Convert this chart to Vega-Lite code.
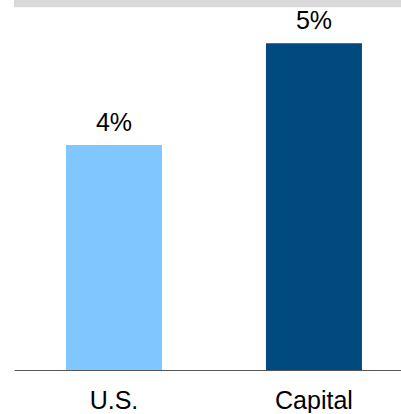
{
  "$schema": "https://vega.github.io/schema/vega-lite/v6.json",
  "width": 387,
  "height": 370,
  "padding": {"left": 14, "top": 0, "right": 0, "bottom": 0},
  "autosize": {"type": "pad"},
  "background": "white",
  "config": {"view": {"stroke": null}, "font": "Liberation Sans"},
  "datasets": {
    "bars": [
      {"group": "U.S.", "value": 3.44, "label": "4%"},
      {"group": "Capital", "value": 5.0, "label": "5%"}
    ],
    "band": [{"lo": 5.55, "hi": 5.66}]
  },
  "layer": [
    {
      "data": {"name": "band"},
      "mark": {"type": "rect", "color": "#d9d9d9", "clip": false},
      "encoding": {
        "y": {"field": "lo", "type": "quantitative", "scale": {"domain": [0, 5.66], "nice": false, "zero": true}, "axis": null},
        "y2": {"field": "hi"}
      }
    },
    {
      "data": {"name": "bars"},
      "encoding": {
        "x": {
          "field": "group", "type": "nominal", "sort": null,
          "scale": {"paddingInner": 0.52, "paddingOuter": 0.2275, "align": 0.571},
          "axis": {"title": null, "labelAngle": 0, "ticks": false, "labelFontSize": 25, "labelColor": "#000000", "labelPadding": 18, "domainColor": "#555555", "domainWidth": 1, "grid": false, "labelFont": "Liberation Sans"}
        },
        "y": {"field": "value", "type": "quantitative", "scale": {"domain": [0, 5.66], "nice": false}, "axis": null}
      },
      "layer": [
        {
          "mark": {"type": "bar"},
          "encoding": {
            "color": {"field": "group", "type": "nominal", "scale": {"domain": ["U.S.", "Capital"], "range": ["#80c6ff", "#004a80"]}, "legend": null}
          }
        },
        {
          "mark": {"type": "text", "baseline": "alphabetic", "dy": -14, "fontSize": 25, "color": "#000000", "font": "Liberation Sans"},
          "encoding": {"text": {"field": "label"}}
        }
      ]
    }
  ]
}
